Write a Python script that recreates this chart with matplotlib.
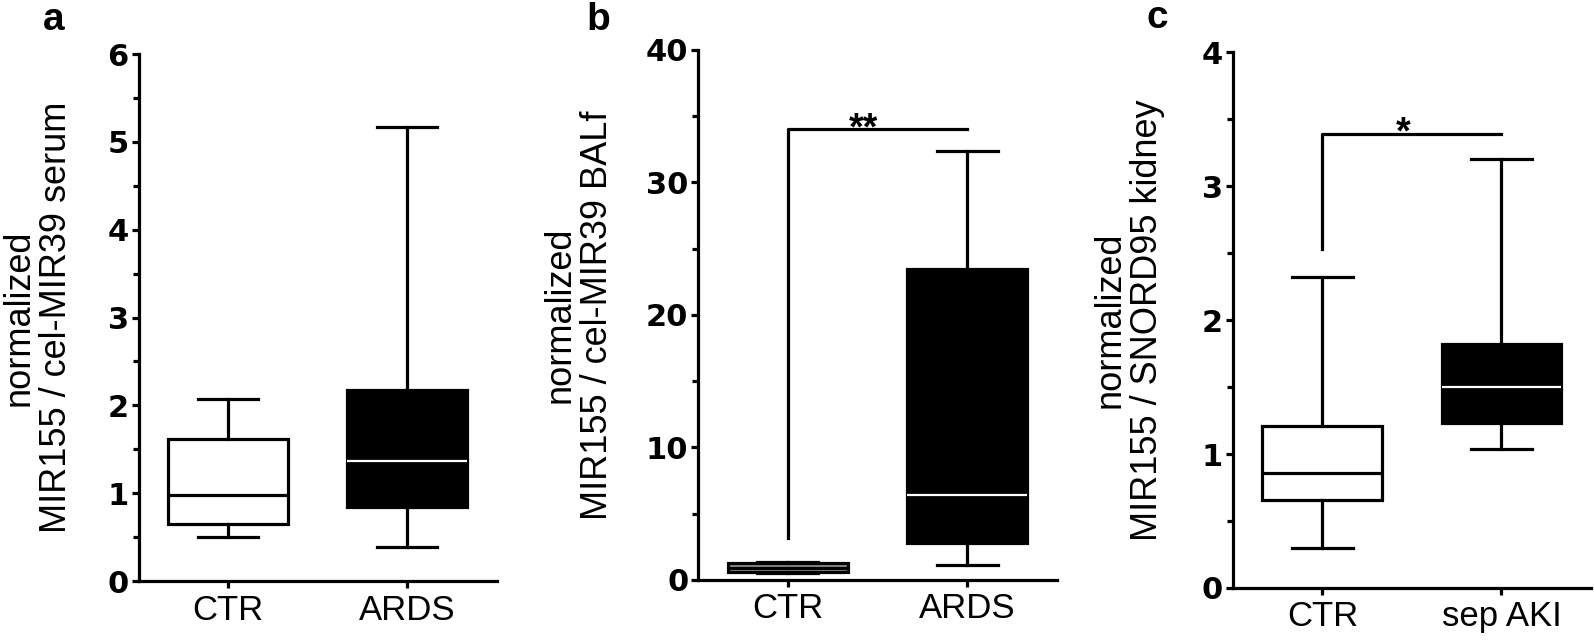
import matplotlib
matplotlib.use('Agg')
import matplotlib.pyplot as plt
from matplotlib.ticker import MultipleLocator

plt.rcParams['font.family'] = ['Liberation Sans', 'DejaVu Sans']

# panel a: serum
a_groups = ['CTR', 'ARDS']
a_min = [0.50, 0.39]
a_q1 = [0.65, 0.84]
a_med = [0.98, 1.37]
a_q3 = [1.62, 2.17]
a_max = [2.07, 5.17]

# panel b: BALf
b_groups = ['CTR', 'ARDS']
b_min = [0.50, 1.11]
b_q1 = [0.58, 2.78]
b_med = [0.90, 6.40]
b_q3 = [1.25, 23.5]
b_max = [1.32, 32.4]
b_bracket = [3.2, 34.0]

# panel c: kidney
c_groups = ['CTR', 'sep AKI']
c_min = [0.30, 1.04]
c_q1 = [0.66, 1.23]
c_med = [0.86, 1.50]
c_q3 = [1.21, 1.82]
c_max = [2.32, 3.20]
c_bracket = [2.53, 3.39]

LW = 2.3


def draw_panel(ax, groups, mins, q1s, meds, q3s, maxs, ylim, major, ylabel,
               label_x, first_fill='white'):
    for i in range(len(groups)):
        st = dict(whislo=mins[i], q1=q1s[i], med=meds[i], q3=q3s[i],
                  whishi=maxs[i], fliers=[], label=groups[i])
        fc = first_fill if i == 0 else 'black'
        mc = 'black' if i == 0 else 'white'
        ax.bxp([st], positions=[i], widths=0.67, capwidths=0.34,
               showfliers=False, patch_artist=True,
               boxprops=dict(facecolor=fc, edgecolor='black', linewidth=LW),
               medianprops=dict(color=mc, linewidth=LW if i == 0 else 1.6),
               whiskerprops=dict(color='black', linewidth=LW),
               capprops=dict(color='black', linewidth=LW))
    ax.set_xlim(-0.5, 1.5)
    ax.set_ylim(*ylim)
    ax.set_xticks([0, 1])
    ax.set_xticklabels(groups, fontsize=25)
    ax.yaxis.set_major_locator(MultipleLocator(major))
    ax.yaxis.set_minor_locator(MultipleLocator(major / 2))
    for lab in ax.get_yticklabels():
        lab.set_family('DejaVu Sans')
        lab.set_fontweight('bold')
        lab.set_fontsize(22)
    for s in ['top', 'right']:
        ax.spines[s].set_visible(False)
    for s in ['left', 'bottom']:
        ax.spines[s].set_linewidth(LW)
    ax.tick_params(axis='both', which='major', direction='out', length=5, width=LW)
    ax.tick_params(axis='y', which='major', pad=2)
    ax.tick_params(axis='x', which='major', pad=4)
    ax.tick_params(axis='y', which='minor', direction='out', length=4, width=LW)
    ax.set_ylabel(ylabel, fontsize=26, linespacing=1.1)
    ax.yaxis.set_label_coords(label_x, 0.5)


def bracket(ax, y0, y1, mark, xm):
    ax.plot([0, 0, 1], [y0, y1, y1], color='black', linewidth=LW, clip_on=False)
    ax.annotate(mark, xy=(xm, y1), xytext=(0, -7), textcoords='offset points',
                ha='center', va='baseline', fontsize=27, fontweight='bold')


fig = plt.figure(figsize=(15.94, 6.41), dpi=100)
ax_a = fig.add_axes([0.0869, 0.0936, 0.2246, 0.822])
ax_b = fig.add_axes([0.4379, 0.0952, 0.2252, 0.827])
ax_c = fig.add_axes([0.7735, 0.0827, 0.2246, 0.836])

draw_panel(ax_a, a_groups, a_min, a_q1, a_med, a_q3, a_max, (0, 6), 1,
           'normalized\nMIR155 / cel-MIR39 serum', -0.18)
draw_panel(ax_b, b_groups, b_min, b_q1, b_med, b_q3, b_max, (0, 40), 10,
           'normalized\nMIR155 / cel-MIR39 BALf', -0.23, first_fill='#8a8a8a')
draw_panel(ax_c, c_groups, c_min, c_q1, c_med, c_q3, c_max, (0, 4), 1,
           'normalized\nMIR155 / SNORD95 kidney', -0.19)

bracket(ax_b, b_bracket[0], b_bracket[1], '**', 0.42)
bracket(ax_c, c_bracket[0], c_bracket[1], '*', 0.45)

fig.text(0.027, 0.953, 'a', fontsize=28, fontweight='bold', va='baseline')
fig.text(0.368, 0.953, 'b', fontsize=28, fontweight='bold', va='baseline')
fig.text(0.719, 0.956, 'c', fontsize=28, fontweight='bold', va='baseline')

fig.savefig('out.png', dpi=100)
